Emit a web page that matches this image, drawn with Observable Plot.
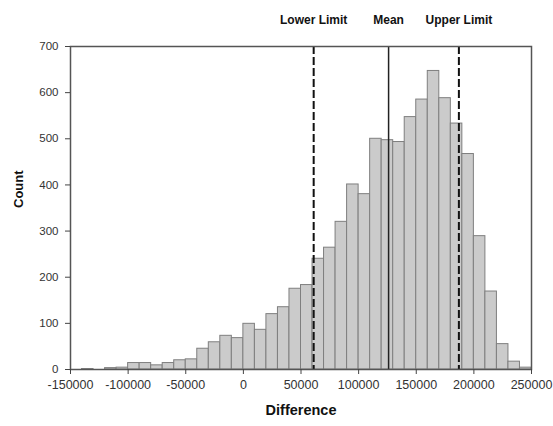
<!DOCTYPE html>
<html>
<head>
<meta charset="utf-8">
<script src="https://cdn.jsdelivr.net/npm/d3@7"></script>
<script src="https://cdn.jsdelivr.net/npm/@observablehq/plot@0.6"></script>
<style>
  html, body { margin: 0; padding: 0; background: #fff; }
  #chart svg { display: block; }
</style>
</head>
<body>
<div id="chart"></div>
<script>
// Bin lower edges (width 10000) and counts
const binStart = [-150000,-140000,-130000,-120000,-110000,-100000,-90000,-80000,-70000,-60000,
  -50000,-40000,-30000,-20000,-10000,0,10000,20000,30000,40000,
  50000,60000,70000,80000,90000,100000,110000,120000,130000,140000,
  150000,160000,170000,180000,190000,200000,210000,220000,230000,240000];
const counts = [0,1,0,3,4,14,14,9,14,20,
  22,45,59,73,68,99,86,120,135,175,
  183,240,264,320,401,380,500,497,493,547,
  585,647,588,533,467,289,169,55,17,4];
const binWidth = 10000;

const refNames = ["Lower Limit", "Mean", "Upper Limit"];
const refValues = [61000, 126000, 187000];
const refDashed = [true, false, true];

const xTicks = [-150000,-100000,-50000,0,50000,100000,150000,200000,250000];
const yTicks = [0,100,200,300,400,500,600,700];

const bins = binStart.map((s, i) => ({x1: s, x2: s + binWidth, count: counts[i]}));
const refs = refNames.map((n, i) => ({name: n, value: refValues[i], dashed: refDashed[i]}));

const chart = Plot.plot({
  width: 553,
  height: 426,
  marginLeft: 70,
  marginRight: 22,
  marginTop: 46,
  marginBottom: 57,
  style: {fontFamily: "Liberation Sans, Arial, sans-serif", fontSize: "11px", color: "#222", background: "#fff"},
  x: {domain: [-150000, 250000], ticks: xTicks, tickFormat: d => String(d), label: null},
  y: {domain: [0, 700], ticks: yTicks, label: null},
  marks: [
    Plot.rectY(bins, {x1: "x1", x2: "x2", y: "count", fill: "#cbcbcb", stroke: "#7f7f7f", strokeWidth: 1, inset: 0}),
    Plot.ruleX(refs.filter(d => d.dashed), {x: "value", stroke: "#111", strokeWidth: 2, strokeDasharray: "8,3"}),
    Plot.ruleX(refs.filter(d => !d.dashed), {x: "value", stroke: "#222", strokeWidth: 1.5}),
    Plot.frame({stroke: "#555", strokeWidth: 1.5}),
    Plot.axisX({ticks: xTicks, tickFormat: d => String(d), tickSize: 5, tickPadding: 6, stroke: "#444", fill: "#333", fontSize: 12.5, label: null}),
    Plot.axisY({ticks: yTicks, tickSize: 5, tickPadding: 7, stroke: "#444", fill: "#333", fontSize: 11.5, label: null}),
    Plot.text(refs, {x: "value", text: "name", frameAnchor: "top", dy: -31, fontWeight: "bold", fontSize: 12, fill: "#111"}),
    Plot.text(["Difference"], {frameAnchor: "bottom", dy: 45, fontWeight: "bold", fontSize: 14.5, fill: "#111"}),
    Plot.text(["Count"], {frameAnchor: "left", dx: -52, rotate: -90, fontWeight: "bold", fontSize: 13, fill: "#111"})
  ]
});
document.getElementById("chart").appendChild(chart);
</script>
</body>
</html>
